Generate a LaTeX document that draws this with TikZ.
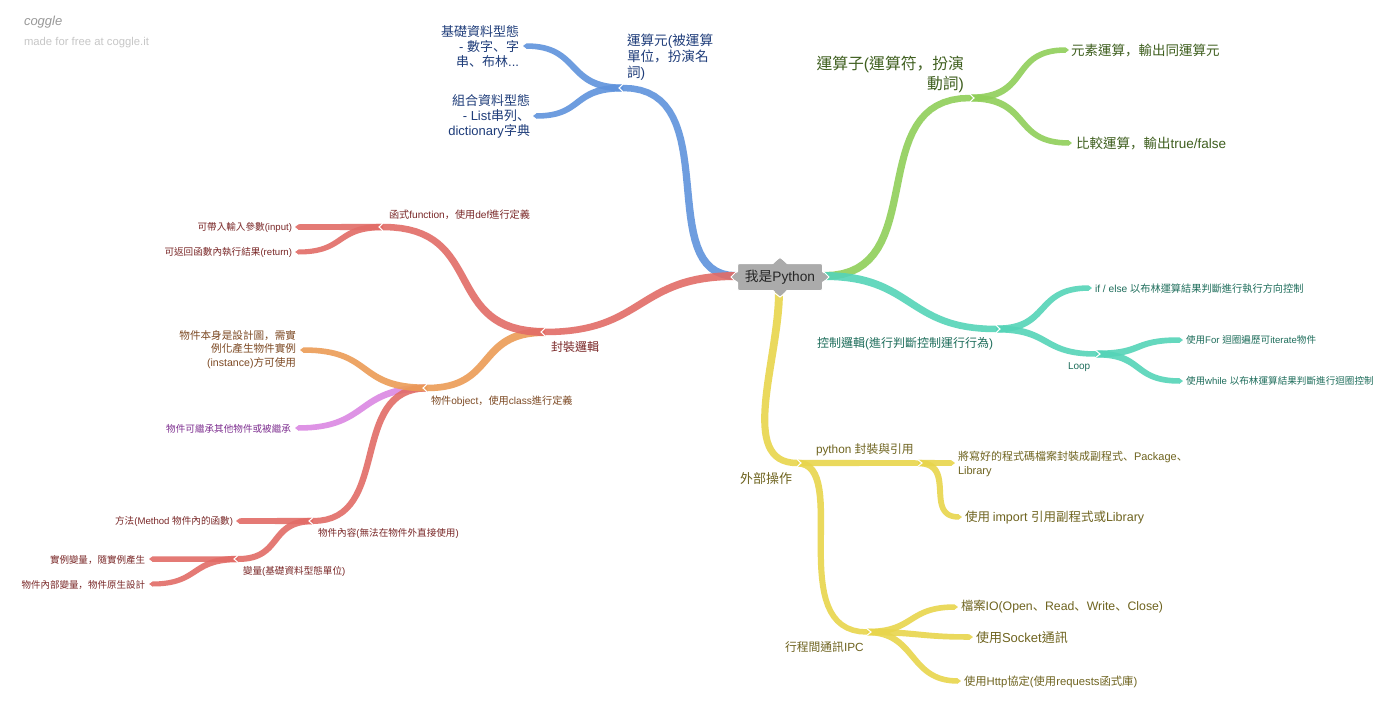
\documentclass[tikz,border=0pt]{standalone}
\usepackage{fontspec}
\usetikzlibrary{calc}
\setmainfont{Liberation Sans}
\newfontfamily\latinf{Liberation Sans}
\newfontfamily\cjkf{Noto Sans CJK TC}
\newfontfamily\cjkpf{Noto Sans CJK SC}
% automatic font switching between Latin and CJK runs
\XeTeXinterchartokenstate=1
\newXeTeXintercharclass\cjkclass
\newXeTeXintercharclass\pnclass
\newcount\cc
\cc="3000
\loop \XeTeXcharclass\cc=\cjkclass \advance\cc by 1 \ifnum\cc<"A000 \repeat
\XeTeXcharclass"3001=\pnclass
\XeTeXcharclass"FF0C=\pnclass
\XeTeXinterchartoks 0 \cjkclass={\cjkf}
\XeTeXinterchartoks 4095 \cjkclass={\cjkf}
\XeTeXinterchartoks \pnclass \cjkclass={\cjkf}
\XeTeXinterchartoks 0 \pnclass={\cjkpf}
\XeTeXinterchartoks 4095 \pnclass={\cjkpf}
\XeTeXinterchartoks \cjkclass \pnclass={\cjkpf}
\XeTeXinterchartoks \cjkclass 0={\latinf}
\XeTeXinterchartoks \pnclass 0={\latinf}
\XeTeXinterchartoks 4095 0={\latinf}
\newcommand\sz[2]{\fontsize{\fpeval{#1*0.75}}{\fpeval{#2*0.75}}\selectfont}
\definecolor{cblue}{RGB}{95,147,220}
\definecolor{cgreen}{RGB}{144,207,89}
\definecolor{cteal}{RGB}{85,212,184}
\definecolor{cred}{RGB}{226,108,103}
\definecolor{corange}{RGB}{236,156,86}
\definecolor{cpurple}{RGB}{219,136,227}
\definecolor{cyellow}{RGB}{232,213,76}
\definecolor{tblue}{HTML}{1F3D7A}
\definecolor{tgreen}{HTML}{3F5F1F}
\definecolor{tteal}{HTML}{1F6E5C}
\definecolor{tred}{HTML}{7A2828}
\definecolor{torange}{HTML}{7D4A24}
\definecolor{tpurple}{HTML}{7E2F90}
\definecolor{tyellow}{HTML}{6F6420}
\definecolor{rootgrey}{HTML}{ABABAB}
\tikzset{
  lbl/.style={inner sep=0pt,outer sep=0pt,yshift=-0.4pt},
  lw/.style={lbl,anchor=west,align=left},
  le/.style={lbl,anchor=east,align=right},
  branchfill/.style={fill=#1,fill opacity=.9,draw=none},
  notch/.style={draw=white,line width=0.8pt,line join=miter},
}
% tapered curve sampled as a polygon: colour, from, to, width at from, width at to,
% first control offset x, first control offset y, second control offset x, tip direction
\newcommand\branchgen[9]{%
  \path let \p1=(#2),\p2=(#3) in \pgfextra{%
    \pgfmathsetmacro\brax{\x1}\pgfmathsetmacro\bray{\y1}\pgfmathsetmacro\brbx{\x2}\pgfmathsetmacro\brby{\y2}%
    \pgfmathsetmacro\brcax{\brax+0.75*(#6)}\pgfmathsetmacro\brcay{\bray-0.75*(#7)}%
    \pgfmathsetmacro\brcbx{\brbx+0.75*(#8)}\pgfmathsetmacro\brcby{\brby}%
    \xdef\brup{}\xdef\brlow{}%
    \foreach \bri in {0,...,32}{%
      \pgfmathsetmacro\brt{\bri/32}\pgfmathsetmacro\bru{1-\brt}%
      \pgfmathsetmacro\brcA{\bru*\bru*\bru}\pgfmathsetmacro\brcB{3*\bru*\bru*\brt}\pgfmathsetmacro\brcC{3*\bru*\brt*\brt}\pgfmathsetmacro\brcD{\brt*\brt*\brt}%
      \pgfmathsetmacro\brpx{\brcA*\brax+\brcB*\brcax+\brcC*\brcbx+\brcD*\brbx}%
      \pgfmathsetmacro\brpy{\brcA*\bray+\brcB*\brcay+\brcC*\brcby+\brcD*\brby}%
      \pgfmathsetmacro\brdA{\bru*\bru}\pgfmathsetmacro\brdB{2*\bru*\brt}\pgfmathsetmacro\brdC{\brt*\brt}%
      \pgfmathsetmacro\brtx{\brdA*(\brcax-\brax)+\brdB*(\brcbx-\brcax)+\brdC*(\brbx-\brcbx)}%
      \pgfmathsetmacro\brty{\brdA*(\brcay-\bray)+\brdB*(\brcby-\brcay)+\brdC*(\brby-\brcby)}%
      \pgfmathsetmacro\brtl{max(veclen(\brtx,\brty),0.001)}%
      \pgfmathsetmacro\brhw{0.375*((#4)+\brt*((#5)-(#4)))}%
      \pgfmathsetmacro\brnx{-\brty/\brtl*\brhw}\pgfmathsetmacro\brny{\brtx/\brtl*\brhw}%
      \pgfmathsetmacro\brux{\brpx+\brnx}\pgfmathsetmacro\bruy{\brpy+\brny}%
      \pgfmathsetmacro\brvx{\brpx-\brnx}\pgfmathsetmacro\brvy{\brpy-\brny}%
      \ifnum\bri=0
        \xdef\brup{(\brux pt,\bruy pt)}\xdef\brlow{(\brvx pt,\brvy pt)}%
      \else
        \xdef\brup{\brup -- (\brux pt,\bruy pt)}\xdef\brlow{(\brvx pt,\brvy pt) -- \brlow}%
      \fi
    }%
  };
  \path[branchfill=#1] \brup -- ($(#3)+(#9*4,0)$) -- \brlow -- cycle;
  \path[notch] ($(#3)+(0,-#5/2-0.5)$) -- ($(#3)+(#9*4,0)$) -- ($(#3)+(0,#5/2+0.5)$);
}
% colour, from, to, width at from, width at to, control offset at from, control offset at to, tip direction
\newcommand\branch[8]{\branchgen{#1}{#2}{#3}{#4}{#5}{#6}{0}{#7}{#8}}
% small point on the root box: anchor, half base vector, tip vector
\newcommand\rootnub[3]{%
  \fill[rootgrey] ($(#1)+#2-0.4*#3$) -- ($(#1)+#3$) -- ($(#1)-#2-0.4*#3$) -- cycle;
  \draw[white,line width=0.75pt] ($(#1)+#2$) -- ($(#1)+#3$) -- ($(#1)-#2$);
}
\begin{document}
\begin{tikzpicture}[x=0.75pt,y=-0.75pt]
\useasboundingbox (0,0) rectangle (1400,715);
\fill[white] (0,0) rectangle (1400,715);
% branch points
\coordinate (rl) at (736,276);
\coordinate (rr) at (824,276);
\coordinate (rb) at (779,292);
\coordinate (bl) at (623,88);
\coordinate (bla) at (526,46);
\coordinate (blb) at (536,116);
\coordinate (gr) at (970,98);
\coordinate (gra) at (1066,50);
\coordinate (grb) at (1069,143);
\coordinate (te) at (996,329);
\coordinate (tea) at (1089,288);
\coordinate (teb) at (1096,354);
\coordinate (tec) at (1180,340);
\coordinate (ted) at (1180,381);
\coordinate (re) at (545,332);
\coordinate (fu) at (383,227);
\coordinate (fua) at (298,227);
\coordinate (fub) at (298,252);
\coordinate (ob) at (427,388);
\coordinate (oba) at (303,350);
\coordinate (obb) at (298,428);
\coordinate (obc) at (313,521);
\coordinate (me) at (239,521);
\coordinate (va) at (238,559);
\coordinate (vaa) at (152,559);
\coordinate (vab) at (152,584);
\coordinate (ye) at (797,463);
\coordinate (py) at (918,463);
\coordinate (pya) at (952,463);
\coordinate (pyb) at (959,517);
\coordinate (ip) at (867,632);
\coordinate (ipa) at (955,607);
\coordinate (ipb) at (970,637);
\coordinate (ipc) at (958,681);
% blue
\branch{cblue}{bl}{bla}{7}{5.5}{-58}{55}{-1}
\branch{cblue}{bl}{blb}{7}{5.5}{-52}{48}{-1}
\branch{cblue}{rl}{bl}{8}{6.5}{-85}{105}{-1}
% green
\branch{cgreen}{gr}{gra}{7}{5.5}{62}{-58}{1}
\branch{cgreen}{gr}{grb}{7}{5.5}{62}{-58}{1}
\branch{cgreen}{rr}{gr}{8}{6.5}{110}{-110}{1}
% teal
\branch{cteal}{teb}{tec}{7}{5.5}{48}{-48}{1}
\branch{cteal}{teb}{ted}{7}{5.5}{48}{-48}{1}
\branch{cteal}{te}{tea}{7}{5.5}{55}{-55}{1}
\branch{cteal}{te}{teb}{7}{5.5}{55}{-55}{1}
\branch{cteal}{rr}{te}{8}{6.5}{90}{-90}{1}
% red family
\branch{cred}{va}{vaa}{5.5}{5.5}{-40}{40}{-1}
\branch{cred}{va}{vab}{6.5}{5}{-48}{48}{-1}
\branch{cred}{obc}{me}{6.5}{5.5}{-35}{35}{-1}
\branch{cred}{obc}{va}{6.5}{6}{-45}{45}{-1}
\branch{cpurple}{ob}{obb}{7}{5.5}{-72}{72}{-1}
\branch{cred}{ob}{obc}{7}{6}{-80}{80}{-1}
\branch{corange}{ob}{oba}{7}{5.5}{-72}{72}{-1}
\branch{corange}{re}{ob}{8}{6.5}{-70}{70}{-1}
\branch{cred}{fu}{fua}{6.5}{5.5}{-40}{40}{-1}
\branch{cred}{fu}{fub}{6.5}{5}{-48}{48}{-1}
\branch{cred}{re}{fu}{8}{6.5}{-105}{105}{-1}
\branch{cred}{rl}{re}{8}{6.5}{-100}{100}{-1}
% yellow
\branch{cyellow}{py}{pya}{6.5}{5.5}{17}{-17}{1}
\branch{cyellow}{py}{pyb}{6.5}{5.5}{40}{-36}{1}
\branch{cyellow}{ye}{py}{6.5}{5.5}{50}{-50}{1}
\branch{cyellow}{ip}{ipa}{6.5}{5.5}{48}{-48}{1}
\branch{cyellow}{ip}{ipb}{6.5}{5.5}{50}{-50}{1}
\branch{cyellow}{ip}{ipc}{6.5}{5.5}{50}{-50}{1}
\branch{cyellow}{ye}{ip}{7}{5.5}{55}{-85}{1}
\branchgen{cyellow}{rb}{ye}{8}{6.5}{0}{68}{-60}{1}
% root
\node[fill=rootgrey,draw=white,line width=0.75pt,rounded corners=1.5pt,inner sep=0pt,minimum width=63.75pt,minimum height=20.25pt,text=black!85,font=\sz{13.7}{16}] (root) at (780,277) {我是Python};
\rootnub{root.north}{(8,0)}{(0,-5.5)}
\rootnub{root.south}{(8,0)}{(0,6)}
\rootnub{root.west}{(0,6)}{(-6,0)}
\rootnub{root.east}{(0,6)}{(6,0)}
% logo
\node[lw,text=black!40,font=\sz{13}{16}\itshape\fontspec{TeX Gyre Heros}] (logo) at (24,22) {coggle};
\node[lw,text=black!22,font=\sz{11.3}{14}] (made) at (24,42) {made for free at coggle.it};
% blue labels
\node[lw,text=tblue,font=\sz{13.6}{16}] (t1) at (627,57) {運算元(被運算\\單位，扮演名\\詞)};
\node[le,text=tblue,font=\sz{13}{15}] (t2) at (519,46) {基礎資料型態\\- 數字、字\\串、布林...};
\node[le,text=tblue,font=\sz{13}{15}] (t3) at (530,116) {組合資料型態\\- List串列、\\dictionary字典};
% green labels
\node[le,text=tgreen,font=\sz{15.8}{20}] (t4) at (964,74) {運算子(運算符，扮演\\動詞)};
\node[lw,text=tgreen,font=\sz{13.5}{16}] (t5) at (1071,50) {元素運算，輸出同運算元};
\node[lw,text=tgreen,font=\sz{13.5}{16}] (t6) at (1076,143) {比較運算，輸出true/false};
% teal labels
\node[lw,text=tteal,font=\sz{12}{14}] (t7) at (817,343) {控制邏輯(進行判斷控制運行行為)};
\node[lw,text=tteal,font=\sz{10.2}{12}] (t8) at (1095,288) {if / else 以布林運算結果判斷進行執行方向控制};
\node[lw,text=tteal,font=\sz{10}{12}] (t9) at (1068,367) {Loop};
\node[lw,text=tteal,font=\sz{9.6}{12}] (t10) at (1186,339) {使用For 迴圈遍歷可iterate物件};
\node[lw,text=tteal,font=\sz{9.6}{12}] (t11) at (1186,380) {使用while 以布林運算結果判斷進行迴圈控制};
% red labels
\node[lw,text=tred,font=\sz{12}{14}] (t12) at (551,346) {封裝邏輯};
\node[lw,text=tred,font=\sz{10.15}{12}] (t13) at (389,214) {函式function，使用def進行定義};
\node[le,text=tred,font=\sz{9.6}{12}] (t14) at (292,227) {可帶入輸入參數(input)};
\node[le,text=tred,font=\sz{9.6}{12}] (t15) at (292,252) {可返回函數內執行結果(return)};
\node[le,text=torange,font=\sz{10.6}{13.5}] (t16) at (296,349) {物件本身是設計圖，需實\\例化產生物件實例\\(instance)方可使用};
\node[lw,text=torange,font=\sz{10.15}{12}] (t17) at (431,401) {物件object，使用class進行定義};
\node[le,text=tpurple,font=\sz{9.6}{12}] (t18) at (291,428) {物件可繼承其他物件或被繼承};
\node[le,text=tred,font=\sz{9.6}{12}] (t19) at (233,521) {方法(Method 物件內的函數)};
\node[lw,text=tred,font=\sz{9.6}{12}] (t20) at (318,533) {物件內容(無法在物件外直接使用)};
\node[lw,text=tred,font=\sz{9.6}{12}] (t21) at (243,571) {變量(基礎資料型態單位)};
\node[le,text=tred,font=\sz{9.5}{12}] (t22) at (145,559) {實例變量，隨實例產生};
\node[le,text=tred,font=\sz{9.5}{12}] (t23) at (145,584) {物件內部變量，物件原生設計};
% yellow labels
\node[lw,text=tyellow,font=\sz{13}{15}] (t24) at (740,478) {外部操作};
\node[lw,text=tyellow,font=\sz{11.8}{14}] (t25) at (816,449) {python 封裝與引用};
\node[lw,text=tyellow,font=\sz{11}{14}] (t26) at (958,463) {將寫好的程式碼檔案封裝成副程式、Package、\\Library};
\node[lw,text=tyellow,font=\sz{12.5}{15}] (t27) at (965,517) {使用 import 引用副程式或Library};
\node[lw,text=tyellow,font=\sz{11.8}{14}] (t28) at (785,646) {行程間通訊IPC};
\node[lw,text=tyellow,font=\sz{12.3}{15}] (t29) at (961,606) {檔案IO(Open、Read、Write、Close)};
\node[lw,text=tyellow,font=\sz{13}{15}] (t30) at (976,637) {使用Socket通訊};
\node[lw,text=tyellow,font=\sz{11.3}{14}] (t31) at (964,681) {使用Http協定(使用requests函式庫)};
\end{tikzpicture}
\end{document}
